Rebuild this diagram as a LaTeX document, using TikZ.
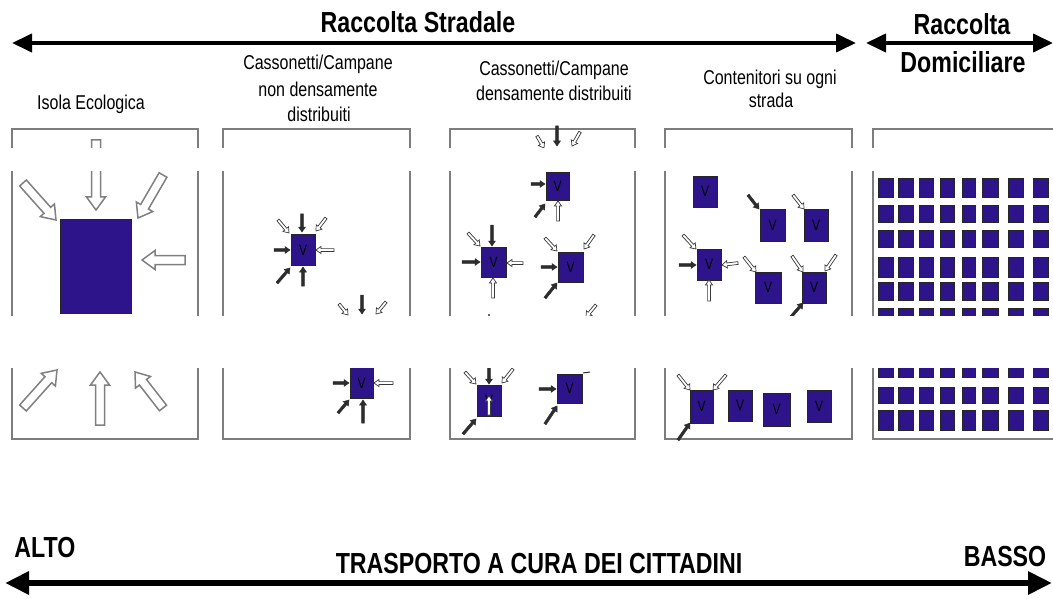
\documentclass[tikz,border=0pt]{standalone}
\usepackage{fontspec}
\setmainfont{Liberation Sans}
\newfontfamily\narrow[FakeStretch=0.8]{Liberation Sans}
\usetikzlibrary{arrows.meta,calc}
\definecolor{vblue}{RGB}{46,20,138}
\definecolor{framegray}{RGB}{125,125,125}
% block arrow: [style]{from}{to}{shaft half width}{head half width}{head length}
\newcommand\blk[6][]{%
  \path[#1] let \p1=#2, \p2=#3,
    \n1={atan2(\y2-\y1,\x2-\x1)},
    \n2={veclen(\x2-\x1,\y2-\y1)-#6}
  in ($(\p1)+({\n1+90}:#4pt)$)
  -- ($(\p1)+(\n1:\n2)+({\n1+90}:#4pt)$)
  -- ($(\p1)+(\n1:\n2)+({\n1+90}:#5pt)$)
  -- (\p2)
  -- ($(\p1)+(\n1:\n2)+({\n1-90}:#5pt)$)
  -- ($(\p1)+(\n1:\n2)+({\n1-90}:#4pt)$)
  -- ($(\p1)+({\n1-90}:#4pt)$) -- cycle;}
\newcommand\bigarr[2]{\blk[bigarrow]{#1}{#2}{4.5}{9.5}{13}}
\newcommand\harr[2]{\blk[hollowarrow]{#1}{#2}{1.4}{3.6}{5}}
\newcommand\sarr[2]{\blk[solidarrow]{#1}{#2}{1.3}{3.4}{5}}
\begin{document}
\begin{tikzpicture}[x=1pt,y=-1pt,
  lab/.style={font=\narrow\fontsize{20}{25}\selectfont, inner sep=0, anchor=base},
  head/.style={font=\narrow\bfseries\fontsize{29}{34}\selectfont, inner sep=0, anchor=base},
  vbox/.style={draw=black!85, fill=vblue, line width=0.8pt, minimum width=24pt,
    minimum height=31pt, inner sep=0, font=\narrow\fontsize{15}{15}\selectfont, text=black},
  gridbox/.style={draw=black!85, fill=vblue, line width=0.8pt},
  frameline/.style={draw=framegray, line width=2pt},
  bigarrow/.style={draw=black!50, fill=white, line width=1.5pt, line join=miter},
  hollowarrow/.style={draw=gray!45!black, fill=white, line width=0.7pt},
  solidarrow/.style={draw=gray!35!black, fill=gray!35!black, line width=0.5pt},
  toparrow/.style={line width=4pt, {Triangle[length=20pt,width=18pt]}-{Triangle[length=20pt,width=18pt]}},
  botarrow/.style={line width=6pt, {Triangle[length=24pt,width=22pt]}-{Triangle[length=24pt,width=22pt]}}]
\useasboundingbox (0,0) rectangle (1053,599);
\clip (0,0) rectangle (1053,599);

% ---------- headers ----------
\node[head] (hstr) at (418,33) {Raccolta Stradale};
\coordinate (ta1) at (12,43);
\coordinate (ta2) at (856,43);
\draw[toparrow] (ta1) -- (ta2);
\node[head] (hdom1) at (962,35) {Raccolta};
\node[head] (hdom2) at (963,73) {Domiciliare};
\coordinate (tb1) at (866,43);
\coordinate (tb2) at (1053,43);
\draw[toparrow] (tb1) -- (tb2);

% ---------- panel labels ----------
\node[lab] (l1) at (91,110) {Isola Ecologica};
\node[lab] (l2a) at (318,70) {Cassonetti/Campane};
\node[lab] (l2b) at (318,97) {non densamente};
\node[lab] (l2c) at (319,122) {distribuiti};
\node[lab] (l3a) at (554,76) {Cassonetti/Campane};
\node[lab] (l3b) at (554,101) {densamente distribuiti};
\node[lab] (l4a) at (770,85) {Contenitori su ogni};
\node[lab] (l4b) at (771,108) {strada};

% ---------- frames ----------
\draw[frameline] (12,129) rectangle (198,439);
\draw[frameline] (223,129) rectangle (410,439);
\draw[frameline] (450,129) rectangle (635,439);
\draw[frameline] (665,129) rectangle (852,439);
\draw[frameline] (873,129) rectangle (1070,439);

% ---------- panel 1: ecological island ----------
\node[draw=black!85, fill=vblue, line width=0.8pt, minimum width=71pt, minimum height=94pt, inner sep=0] (isola) at (95.5,266) {};
\bigarr{(23,183)}{(56,220)}
\bigarr{(96,140)}{(96,210)}
\bigarr{(163,175)}{(138,218)}
\bigarr{(185,260)}{(142,260)}
\bigarr{(23,408)}{(57,370)}
\bigarr{(100,425)}{(100,372)}
\bigarr{(163,408)}{(135,372)}

% ---------- panel 2 ----------
\node[vbox] (b21) at (303,250) {V};
\node[vbox, minimum width=23pt] (b22) at (361.5,383) {V};
\harr{(278,220)}{(289,233)}
\sarr{(302,214)}{(302,232)}
\harr{(326,218)}{(316,231)}
\sarr{(274,250)}{(290,250)}
\harr{(334,250)}{(316,250)}
\sarr{(277,283)}{(290,268)}
\sarr{(303,286)}{(303,267)}
\harr{(339,304)}{(348,315)}
\sarr{(362,295)}{(362,314)}
\harr{(386,302)}{(376,314)}
\sarr{(333,383)}{(349,383)}
\harr{(393,383)}{(374,383)}
\sarr{(338,413)}{(349,400)}
\sarr{(363,423)}{(363,400)}

% ---------- panel 3 ----------
\node[vbox, minimum width=23pt, minimum height=28pt] (b31) at (557.5,186) {V};
\node[vbox, minimum width=25pt, minimum height=30pt] (b32) at (493.5,262) {V};
\node[vbox, minimum width=25pt, minimum height=30pt] (b33) at (570.5,267) {V};
\node[vbox] (b34) at (489,400.5) {V};
\node[vbox, minimum width=25pt, minimum height=29pt] (b35) at (569.5,388.5) {V};
\harr{(537,136)}{(544,148)}
\sarr{(557,126)}{(557,146)}
\harr{(580,132)}{(572,146)}
\sarr{(531,184)}{(545,184)}
\sarr{(535,217)}{(545,204)}
\harr{(558,221)}{(558,201)}
\harr{(468,233)}{(480,246)}
\sarr{(492,225)}{(492,246)}
\sarr{(462,262)}{(480,262)}
\harr{(523,263)}{(507,263)}
\harr{(493,298)}{(493,278)}
\harr{(545,238)}{(557,251)}
\harr{(594,235)}{(584,249)}
\sarr{(541,267)}{(557,267)}
\sarr{(545,298)}{(557,283)}
\harr{(596,305)}{(586,317)}
\fill[gray!35!black] (489,315) circle (1.2);
\harr{(465,372)}{(476,384)}
\sarr{(489,366)}{(489,384)}
\harr{(513,369)}{(502,383)}
\harr{(489,415)}{(489,396)}
\sarr{(463,434)}{(476,419)}
\sarr{(539,389)}{(556,389)}
\sarr{(545,424)}{(557,406)}
\draw[gray!35!black, line width=1pt] (583,373) -- (590,372);

% ---------- panel 4 ----------
\node[vbox] (b41) at (705,191.5) {V};
\node[vbox, minimum width=25pt, minimum height=32pt] (b42) at (772.5,225) {V};
\node[vbox, minimum height=32pt] (b43) at (816,225) {V};
\node[vbox] (b44) at (709,264.5) {V};
\node[vbox, minimum width=26pt] (b45) at (768,287.5) {V};
\node[vbox] (b46) at (814,287.5) {V};
\node[vbox, minimum width=23pt, minimum height=33pt] (b47) at (701.5,406.5) {V};
\node[vbox] (b48) at (740,405.5) {V};
\node[vbox, minimum width=27pt, minimum height=33pt] (b49) at (776.5,409.5) {V};
\node[vbox, minimum height=32pt] (b410) at (819,406) {V};
\sarr{(748,195)}{(759,209)}
\harr{(793,195)}{(804,209)}
\harr{(683,235)}{(696,249)}
\sarr{(679,265)}{(696,265)}
\harr{(738,263)}{(722,265)}
\harr{(709,301)}{(709,280)}
\harr{(744,257)}{(756,272)}
\harr{(792,256)}{(803,272)}
\harr{(836,255)}{(825,271)}
\sarr{(790,318)}{(803,303)}
\harr{(678,375)}{(690,390)}
\harr{(726,375)}{(713,390)}
\sarr{(678,440)}{(690,423)}

% ---------- panel 5: door-to-door grid ----------
\foreach \xa/\xb in {878/893,898/913,919/933,940/954,962/975,982/998,1008/1023,1033/1048}{
  \foreach \ya/\yb in {178/197,205/222,230/247,257/277,282/300,308/325,358/377,387/403,410/430}{
    \draw[gridbox] (\xa,\ya) rectangle (\xb,\yb);
  }
}

% ---------- cut-away gaps ----------
\fill[white] (0,148.5) rectangle (1053,171.5);
\fill[white] (0,315.5) rectangle (1053,367.5);

% ---------- bottom ----------
\node[head] (alto) at (45,557) {ALTO};
\node[head] (trasp) at (539,573) {TRASPORTO A CURA DEI CITTADINI};
\node[head] (basso) at (1005,566) {BASSO};
\coordinate (ba1) at (5,583);
\coordinate (ba2) at (1052,583);
\draw[botarrow] (ba1) -- (ba2);
\end{tikzpicture}
\end{document}
